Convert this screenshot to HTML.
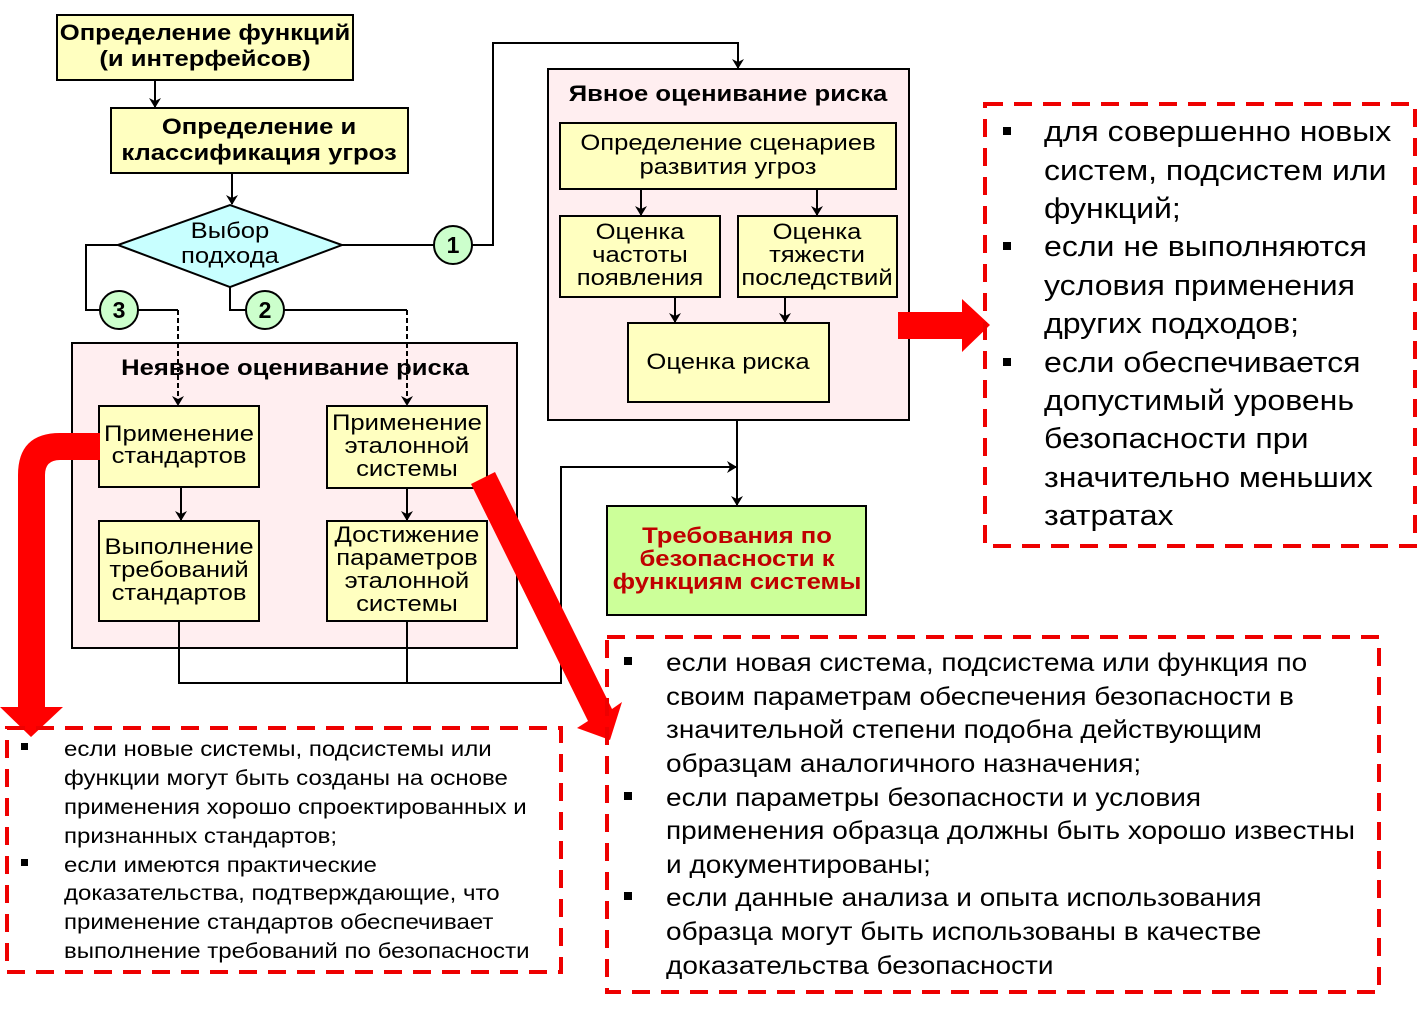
<!DOCTYPE html>
<html><head><meta charset="utf-8"><style>
html,body{margin:0;padding:0;background:#fff}
svg{display:block}
text{font-family:"Liberation Sans",Arial,sans-serif}
.b{font-weight:bold}
</style></head><body>
<svg width="1423" height="1013" viewBox="0 0 1423 1013" xmlns="http://www.w3.org/2000/svg">
<defs>
<marker id="ar" markerWidth="10" markerHeight="12" refX="9" refY="6" orient="auto" markerUnits="userSpaceOnUse">
<path d="M0,0 L10,6 L0,12 L3,6 Z" fill="#000"/></marker>
</defs>
<g stroke="#000" stroke-width="2" fill="none">
<line x1="155" y1="80" x2="155" y2="107" marker-end="url(#ar)"/>
<line x1="232" y1="173" x2="232" y2="204" marker-end="url(#ar)"/>
<polyline points="342,245 493,245 493,43 738,43 738,68" marker-end="url(#ar)"/>
<polyline points="118,245 86,245 86,310 178,310"/>
<polyline points="230,287 230,310 407,310"/>
<line x1="178" y1="310" x2="178" y2="405" stroke-dasharray="5,3" marker-end="url(#ar)"/>
<line x1="407" y1="310" x2="407" y2="405" stroke-dasharray="5,3" marker-end="url(#ar)"/>
</g>
<rect x="57" y="15" width="296" height="65" fill="#ffffc0" stroke="#000" stroke-width="2"/>
<g transform="matrix(1.165,0,0,1,-33.8,0)" font-size="22" class="b" text-anchor="middle">
<text x="205" y="40">Определение функций</text>
<text x="205" y="66">(и интерфейсов)</text>
</g>
<rect x="111" y="108" width="297" height="65" fill="#ffffc0" stroke="#000" stroke-width="2"/>
<g transform="matrix(1.165,0,0,1,-42.7,0)" font-size="22" class="b" text-anchor="middle">
<text x="259" y="134">Определение и</text>
<text x="259" y="160">классификация угроз</text>
</g>
<polygon points="118,245 230,205 342,245 230,287" fill="#c8ffff" stroke="#000" stroke-width="2"/>
<g transform="matrix(1.165,0,0,1,-38,0)" font-size="22" text-anchor="middle">
<text x="230" y="238">Выбор</text>
<text x="230" y="263">подхода</text>
</g>
<g stroke="#000" stroke-width="2" fill="#ccffcc">
<circle cx="453" cy="245" r="19"/><circle cx="119" cy="310" r="19"/><circle cx="265" cy="310" r="19"/>
</g>
<g font-size="23" class="b" text-anchor="middle">
<text x="453" y="253">1</text><text x="119" y="318">3</text><text x="265" y="318">2</text>
</g>
<rect x="72" y="343" width="445" height="305" fill="#ffeef0" stroke="#000" stroke-width="2"/>
<g transform="matrix(1.165,0,0,1,-48.7,0)" font-size="22" class="b" text-anchor="middle">
<text x="295" y="375">Неявное оценивание риска</text>
</g>
<g stroke="#000" stroke-width="2" fill="none">
<line x1="178" y1="343" x2="178" y2="405" stroke-dasharray="5,3" marker-end="url(#ar)"/>
<line x1="407" y1="343" x2="407" y2="405" stroke-dasharray="5,3" marker-end="url(#ar)"/>
<line x1="181" y1="487" x2="181" y2="520" marker-end="url(#ar)"/>
<line x1="407" y1="488" x2="407" y2="520" marker-end="url(#ar)"/>
<polyline points="179,621 179,683 561,683 561,467 736,467" marker-end="url(#ar)"/>
<line x1="407" y1="621" x2="407" y2="683"/>
<line x1="737" y1="402" x2="737" y2="505" marker-end="url(#ar)"/>
</g>
<g fill="#ffffc0" stroke="#000" stroke-width="2">
<rect x="99" y="406" width="160" height="81"/>
<rect x="327" y="406" width="160" height="82"/>
<rect x="99" y="521" width="160" height="100"/>
<rect x="327" y="521" width="160" height="100"/>
</g>
<g font-size="22" text-anchor="middle">
<g transform="matrix(1.165,0,0,1,-29.5,0)">
<text x="179" y="441">Применение</text><text x="179" y="463">стандартов</text>
<text x="179" y="554">Выполнение</text><text x="179" y="577">требований</text><text x="179" y="600">стандартов</text>
</g>
<g transform="matrix(1.165,0,0,1,-67.2,0)">
<text x="407" y="430">Применение</text><text x="407" y="453">эталонной</text><text x="407" y="476">системы</text>
<text x="407" y="542">Достижение</text><text x="407" y="565">параметров</text><text x="407" y="588">эталонной</text><text x="407" y="611">системы</text>
</g>
</g>
<rect x="548" y="69" width="361" height="351" fill="#ffeef0" stroke="#000" stroke-width="2"/>
<g transform="matrix(1.165,0,0,1,-120.1,0)" font-size="22" class="b" text-anchor="middle">
<text x="728" y="101">Явное оценивание риска</text>
</g>
<g stroke="#000" stroke-width="2" fill="none">
<line x1="641" y1="189" x2="641" y2="215" marker-end="url(#ar)"/>
<line x1="817" y1="189" x2="817" y2="215" marker-end="url(#ar)"/>
<line x1="675" y1="297" x2="675" y2="322" marker-end="url(#ar)"/>
<line x1="785" y1="297" x2="785" y2="322" marker-end="url(#ar)"/>
</g>
<g fill="#ffffc0" stroke="#000" stroke-width="2">
<rect x="560" y="123" width="336" height="66"/>
<rect x="560" y="216" width="160" height="81"/>
<rect x="738" y="216" width="159" height="81"/>
<rect x="628" y="323" width="201" height="79"/>
</g>
<g font-size="22" text-anchor="middle">
<g transform="matrix(1.165,0,0,1,-120.1,0)">
<text x="728" y="150">Определение сценариев</text><text x="728" y="174">развития угроз</text>
<text x="728" y="369">Оценка риска</text>
</g>
<g transform="matrix(1.165,0,0,1,-105.6,0)">
<text x="640" y="239">Оценка</text><text x="640" y="262">частоты</text><text x="640" y="285">появления</text>
</g>
<g transform="matrix(1.165,0,0,1,-134.8,0)">
<text x="817" y="239">Оценка</text><text x="817" y="262">тяжести</text><text x="817" y="285">последствий</text>
</g>
</g>
<rect x="607" y="506" width="259" height="109" fill="#ccff99" stroke="#000" stroke-width="2"/>
<g transform="matrix(1.165,0,0,1,-121.6,0)" font-size="22" class="b" text-anchor="middle" fill="#c00000">
<text x="737" y="543">Требования по</text><text x="737" y="566">безопасности к</text><text x="737" y="589">функциям системы</text>
</g>
<g fill="#ff0000">
<polygon points="898,312 962,312 962,299 990,325 962,352 962,339 898,339"/>
<path d="M100,433 L60,433 Q18,433 18,475 L18,707 L0,707 L31,737 L63,707 L45,707 L45,475 Q45,460 60,460 L100,460 Z"/>
<polygon points="471,484 495,472 612,709 622,702 610,740 577,728 588,721"/>
</g>
<g fill="none" stroke="#ee0000" stroke-width="4" stroke-dasharray="18,11">
<rect x="985" y="104" width="430" height="442"/>
<rect x="607" y="637" width="772" height="355"/>
<rect x="7" y="728" width="554" height="244"/>
</g>
<g fill="#000">
<rect x="1003" y="127" width="8" height="8"/><rect x="1003" y="242" width="8" height="8"/><rect x="1003" y="358" width="8" height="8"/>
<rect x="624" y="657" width="8" height="8"/><rect x="624" y="792" width="8" height="8"/><rect x="624" y="892" width="8" height="8"/>
<rect x="21" y="743" width="7" height="7"/><rect x="21" y="859" width="7" height="7"/>
</g>
<g font-size="29" transform="matrix(1.105,0,0,1,-109.6,0)">
<text x="1044" y="141">для совершенно новых</text>
<text x="1044" y="180">систем, подсистем или</text>
<text x="1044" y="218">функций;</text>
<text x="1044" y="256">если не выполняются</text>
<text x="1044" y="295">условия применения</text>
<text x="1044" y="333">других подходов;</text>
<text x="1044" y="372">если обеспечивается</text>
<text x="1044" y="410">допустимый уровень</text>
<text x="1044" y="448">безопасности при</text>
<text x="1044" y="487">значительно меньших</text>
<text x="1044" y="525">затратах</text>
</g>
<g font-size="25" transform="matrix(1.12,0,0,1,-79.9,0)">
<text x="666" y="671">если новая система, подсистема или функция по</text>
<text x="666" y="705">своим параметрам обеспечения безопасности в</text>
<text x="666" y="738">значительной степени подобна действующим</text>
<text x="666" y="772">образцам аналогичного назначения;</text>
<text x="666" y="806">если параметры безопасности и условия</text>
<text x="666" y="839">применения образца должны быть хорошо известны</text>
<text x="666" y="873">и документированы;</text>
<text x="666" y="906">если данные анализа и опыта использования</text>
<text x="666" y="940">образца могут быть использованы в качестве</text>
<text x="666" y="974">доказательства безопасности</text>
</g>
<g font-size="21" transform="matrix(1.145,0,0,1,-9.3,0)">
<text x="64" y="756">если новые системы, подсистемы или</text>
<text x="64" y="785">функции могут быть созданы на основе</text>
<text x="64" y="814">применения хорошо спроектированных и</text>
<text x="64" y="843">признанных стандартов;</text>
<text x="64" y="872">если имеются практические</text>
<text x="64" y="900">доказательства, подтверждающие, что</text>
<text x="64" y="929">применение стандартов обеспечивает</text>
<text x="64" y="958">выполнение требований по безопасности</text>
</g>
</svg>
</body></html>
